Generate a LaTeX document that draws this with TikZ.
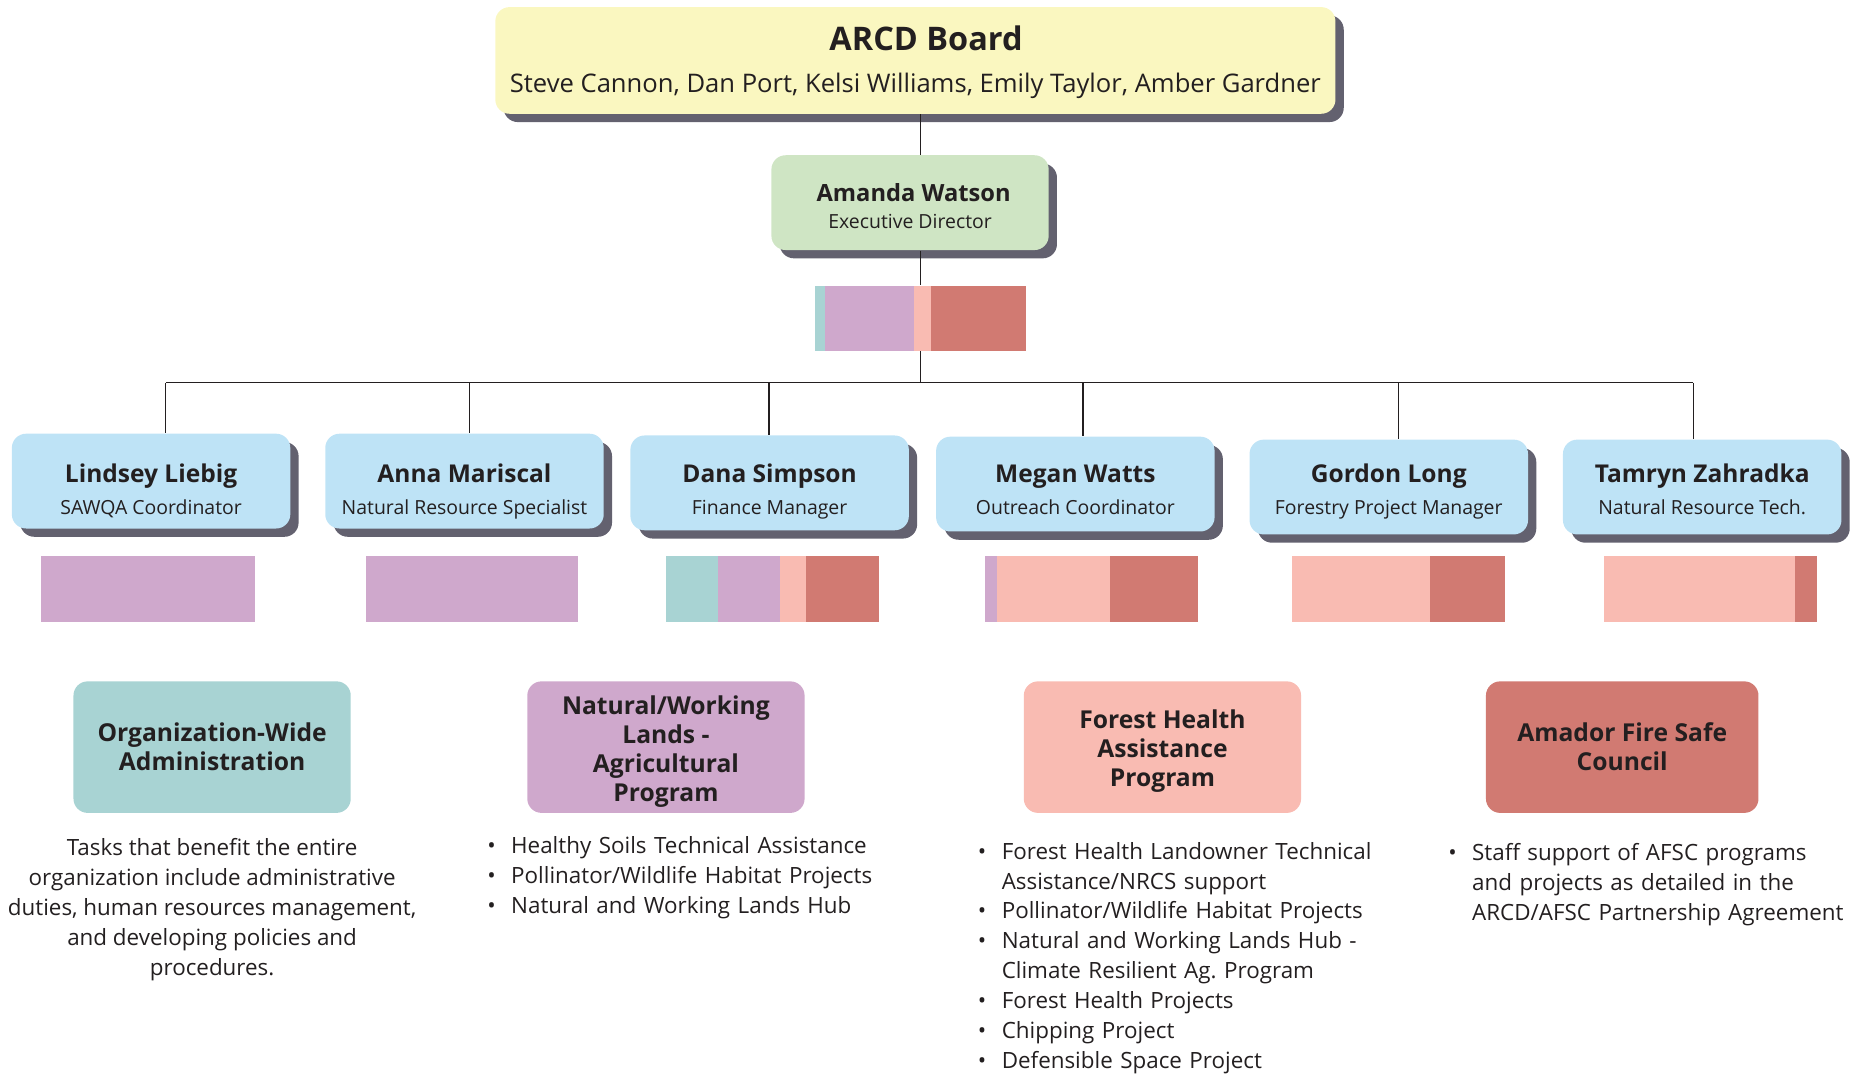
\documentclass[tikz,border=0pt]{standalone}
\usepackage{fontspec}
\setmainfont{Open Sans}
\usepackage{enumitem}
\usetikzlibrary{positioning,shadows}
\frenchspacing

\definecolor{boardyellow}{HTML}{FAF7C0}
\definecolor{dirgreen}{HTML}{CFE5C4}
\definecolor{staffblue}{HTML}{BEE3F6}
\definecolor{admteal}{HTML}{A8D3D3}
\definecolor{agpurple}{HTML}{CFA8CC}
\definecolor{forestpink}{HTML}{F9BBB2}
\definecolor{firered}{HTML}{D17A72}
\definecolor{shadowgrey}{HTML}{63616F}
\definecolor{ink}{HTML}{231F20}

\newcommand{\OrgBoxWidth}{117.5pt}
\newcommand{\OrgBoxHeight}{40pt}
\newcommand{\OrgRoleSize}{\fontsize{8.2}{13.7}\selectfont\mdseries}
\newcommand{\OrgListSize}{\fontsize{9.45}{12.6}\selectfont}
\newcommand{\OrgStaff}[3]{\rule{0pt}{#1}#2\\{\OrgRoleSize #3\rule[-2.6pt]{0pt}{2.6pt}}}
\newcommand{\OrgList}[1]{\begin{itemize}[leftmargin=8.5pt, labelsep=6.5pt, itemsep=0pt, topsep=0pt, parsep=0pt, partopsep=0pt]#1\end{itemize}}

\tikzset{
	shadowed/.style={rounded corners=6pt, drop shadow={shadow xshift=3.5pt, shadow yshift=-3.5pt, fill=shadowgrey, opacity=1}},
	staffbox/.style={shadowed, fill=staffblue, minimum width=\OrgBoxWidth, minimum height=\OrgBoxHeight, align=center, inner sep=0pt, font=\fontsize{10.35}{13.7}\selectfont\bfseries},
	progbox/.style={rounded corners=6pt, minimum width=117pt, minimum height=55.5pt, align=center, inner sep=0pt, font=\fontsize{10.4}{12.25}\selectfont\bfseries},
	listbox/.style={anchor=north west, inner sep=0pt, text width=#1, align=left, font=\OrgListSize},
	wire/.style={draw=ink, line width=0.5pt},
}

\begin{document}
\begin{tikzpicture}[x=0.5pt, y=-0.5pt, text=ink]
	\useasboundingbox (0,0) rectangle (1568,907);
	% board and director
	\node[shadowed, fill=boardyellow, minimum width=354.5pt, minimum height=45pt, align=center, inner sep=0pt, font=\fontsize{10.8}{17.6}\selectfont] (board) at (772.5,51) {{\fontsize{13.7}{17.6}\selectfont\bfseries\rule{0pt}{14pt}\hspace*{9pt}ARCD Board}\\Steve Cannon, Dan Port, Kelsi Williams, Emily Taylor, Amber Gardner\rule[-4.4pt]{0pt}{4.4pt}};
	\node[shadowed, fill=dirgreen, minimum width=117pt, minimum height=\OrgBoxHeight, align=center, inner sep=0pt, font=\fontsize{10}{11.3}\selectfont\bfseries] (dir) at (768,171) {\rule{0pt}{14pt}\hspace*{3pt}Amanda Watson\\{\OrgRoleSize Executive Director\rule[-3.5pt]{0pt}{3.5pt}}};
	\node[minimum width=89pt, minimum height=27.5pt, inner sep=0pt] (mix) at (777,268.5) {};
	\fill[admteal] (688,241) rectangle (696,296);
	\fill[agpurple] (696,241) rectangle (771,296);
	\fill[forestpink] (771,241) rectangle (786,296);
	\fill[firered] (786,241) rectangle (866,296);

	% staff
	\node[staffbox] (s1) at (127.5,406) {\OrgStaff{17.3pt}{Lindsey Liebig}{SAWQA Coordinator}};
	\node[staffbox] (s2) at (392,406) {\OrgStaff{17.3pt}{Anna Mariscal}{Natural Resource Specialist}};
	\node[staffbox] (s3) at (649.5,407.5) {\OrgStaff{15.8pt}{Dana Simpson}{Finance Manager}};
	\node[staffbox] (s4) at (907.5,408.5) {\OrgStaff{14.8pt}{Megan Watts}{Outreach Coordinator}};
	\node[staffbox] (s5) at (1172,411) {\OrgStaff{12.3pt}{Gordon Long}{Forestry Project Manager}};
	\node[staffbox] (s6) at (1436.5,411) {\OrgStaff{12.3pt}{Tamryn Zahradka}{Natural Resource Tech.}};

	\coordinate (d1) at (140,323);
	\coordinate (d2) at (396,323);
	\coordinate (d3) at (649,323);
	\coordinate (d4) at (914,323);
	\coordinate (d5) at (1180,323);
	\coordinate (d6) at (1429,323);

	\draw[wire] (board.south -| mix.north) -- (dir.north -| mix.north);
	\draw[wire] (dir.south -| mix.north) -- (mix.north);
	\draw[wire] (mix.south) -- (mix.south |- d1);
	\draw[wire] (d1) -- (d6);
	\draw[wire] (d1) -- (d1 |- s1.north);
	\draw[wire] (d2) -- (d2 |- s2.north);
	\draw[wire] (d3) -- (d3 |- s3.north);
	\draw[wire] (d4) -- (d4 |- s4.north);
	\draw[wire] (d5) -- (d5 |- s5.north);
	\draw[wire] (d6) -- (d6 |- s6.north);

	% time split bars
	\fill[agpurple] (35,469) rectangle (215,525);
	\fill[agpurple] (309,469) rectangle (488,525);
	\fill[admteal] (562,469) rectangle (606,525);
	\fill[agpurple] (606,469) rectangle (658,525);
	\fill[forestpink] (658,469) rectangle (680,525);
	\fill[firered] (680,469) rectangle (742,525);
	\fill[agpurple] (831,469) rectangle (841,525);
	\fill[forestpink] (841,469) rectangle (937,525);
	\fill[firered] (937,469) rectangle (1011,525);
	\fill[forestpink] (1090,469) rectangle (1207,525);
	\fill[firered] (1207,469) rectangle (1270,525);
	\fill[forestpink] (1354,469) rectangle (1515,525);
	\fill[firered] (1515,469) rectangle (1533,525);

	% programs
	\node[progbox, fill=admteal] (p1) at (179,630.5) {Organization-Wide\\Administration};
	\node[progbox, fill=agpurple] (p2) at (562,630.5) {\rule{0pt}{12pt}Natural/Working\\Lands -\\Agricultural\\Program};
	\node[progbox, fill=forestpink] (p3) at (981,630.5) {\rule{0pt}{11pt}Forest Health\\Assistance\\Program};
	\node[progbox, fill=firered, minimum width=115pt] (p4) at (1369,630.5) {Amador Fire Safe\\Council};

	\node[anchor=north, inner sep=0pt, align=center, font=\OrgListSize] (t1) at (179,707.5) {Tasks that benefit the entire\\organization include administrative\\duties, human resources management,\\and developing policies and\\procedures.};
	\node[listbox=200pt] (t2) at (414,694.5) {\OrgList{\item Healthy Soils Technical Assistance \item Pollinator/Wildlife Habitat Projects \item Natural and Working Lands Hub}};
	\node[listbox=200pt] (t3) at (828,699.5) {\OrgList{\item Forest Health Landowner Technical\\Assistance/NRCS support \item Pollinator/Wildlife Habitat Projects \item Natural and Working Lands Hub -\\Climate Resilient Ag. Program \item Forest Health Projects \item Chipping Project \item Defensible Space Project}};
	\node[listbox=200pt] (t4) at (1225,700.5) {\OrgList{\item Staff support of AFSC programs\\and projects as detailed in the\\ARCD/AFSC Partnership Agreement}};
\end{tikzpicture}
\end{document}
